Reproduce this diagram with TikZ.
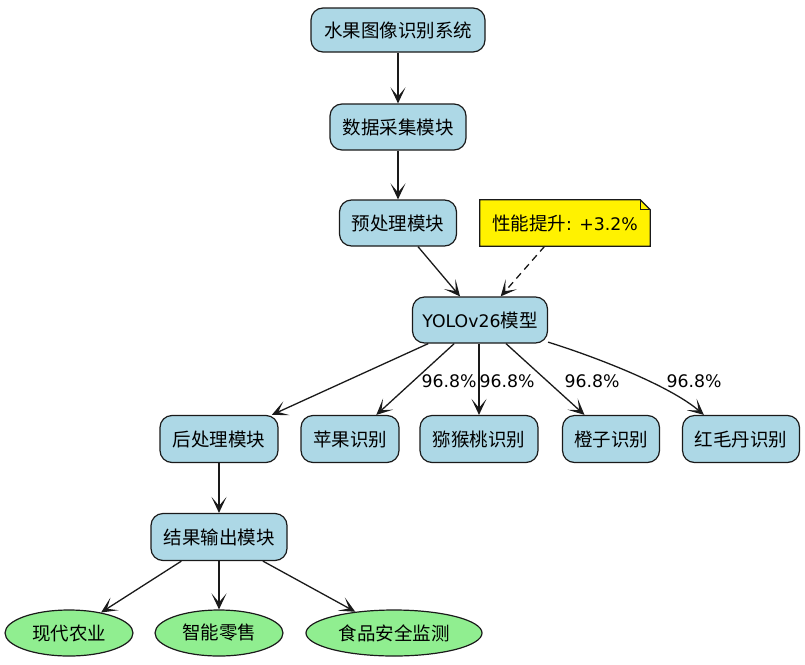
\documentclass[tikz,border=0pt]{standalone}
\usepackage{fontspec}
\setmainfont{DejaVu Sans}
\newfontfamily\cjk{Noto Sans CJK SC}
\newfontfamily\dv{DejaVu Sans}
\usetikzlibrary{arrows.meta,shapes.geometric,calc}
\definecolor{boxblue}{HTML}{ADD8E6}
\definecolor{ellgreen}{HTML}{90EE90}
\definecolor{edgecol}{HTML}{1A1A1A}
\newcommand{\cjkfont}{\cjk\fontsize{18.5}{21}\selectfont}
\newcommand{\latfont}{\dv\fontsize{17.3}{21}\selectfont}
\tikzset{
  box/.style={draw=edgecol, line width=1.2pt, fill=boxblue, rounded corners=12pt,
    minimum height=46pt, inner sep=0pt, font=\cjkfont},
  ell/.style={ellipse, draw=edgecol, line width=1.2pt, fill=ellgreen,
    minimum height=46pt, inner sep=0pt, font=\cjkfont},
  notebox/.style={minimum height=46pt, minimum width=170pt, inner sep=0pt, font=\cjkfont},
  arr/.style={draw=edgecol, line width=1.3pt, -{Stealth[length=16pt,width=15pt,inset=9pt]}},
  lbl/.style={font=\latfont, inner sep=0pt}
}
\begin{document}
\begin{tikzpicture}[x=1pt,y=-1pt]
\useasboundingbox (0,0) rectangle (805,664);
% nodes
\node[box, minimum width=174pt, minimum height=44pt] (top) at (398,30) {水果图像识别系统};
\node[box, minimum width=136pt] (data) at (398,127) {数据采集模块};
\node[box, minimum width=117pt] (pre) at (398,223) {预处理模块};
\node[notebox] (note) at (565,223) {};
\node[box, minimum width=135pt] (yolo) at (480,320) {{\latfont YOLOv26}模型};
\node[box, minimum width=118pt, minimum height=47pt] (post) at (219,439) {后处理模块};
\node[box, minimum width=98pt, minimum height=47pt] (apple) at (350,439) {苹果识别};
\node[box, minimum width=118pt, minimum height=47pt] (kiwi) at (479,439) {猕猴桃识别};
\node[box, minimum width=97pt, minimum height=47pt] (orange) at (611,439) {橙子识别};
\node[box, minimum width=117pt, minimum height=47pt] (ramb) at (741,439) {红毛丹识别};
\node[box, minimum width=136pt, minimum height=47pt] (out) at (219,537) {结果输出模块};
\node[ell, minimum width=128pt] (agri) at (69,633) {现代农业};
\node[ell, minimum width=128pt] (retail) at (219,633) {智能零售};
\node[ell, minimum width=176pt] (food) at (394,633) {食品安全监测};
% note shape
\fill[yellow] (note.north west) -- ($(note.north east)+(-10,0)$) -- ($(note.north east)+(0,10)$)
  -- (note.south east) -- (note.south west) -- cycle;
\draw[edgecol, line width=1.2pt, line join=miter] (note.north west) -- ($(note.north east)+(-10,0)$)
  -- ($(note.north east)+(0,10)$) -- (note.south east) -- (note.south west) -- cycle;
\draw[edgecol, line width=1.2pt] ($(note.north east)+(-10,0)$) -- ($(note.north east)+(-10,10)$)
  -- ($(note.north east)+(0,10)$);
\node[notebox] (notetext) at (note) {性能提升{\latfont: +3.2\%}};
% edges
\draw[arr] (top) -- (data);
\draw[arr] (data) -- (pre);
\draw[arr] (pre) -- (yolo);
\draw[arr, dashed, dash pattern=on 7pt off 5pt] (note) -- (yolo);
\draw[arr] (yolo) -- (post);
\draw[arr] (yolo) -- (apple);
\draw[arr] (yolo.south -| kiwi) -- (kiwi);
\draw[arr] (yolo) -- (orange);
\draw[arr] (yolo.-18) .. controls +(45,14) and +(-35,-30) .. (ramb.147);
\draw[arr] (post) -- (out);
\draw[arr] (out) -- (agri);
\draw[arr] (out) -- (retail);
\draw[arr] (out) -- (food);
% labels
\node[lbl] (l1) at (449,381) {96.8\%};
\node[lbl] (l2) at (507,381) {96.8\%};
\node[lbl] (l3) at (592,381) {96.8\%};
\node[lbl] (l4) at (694,381) {96.8\%};
\end{tikzpicture}
\end{document}
